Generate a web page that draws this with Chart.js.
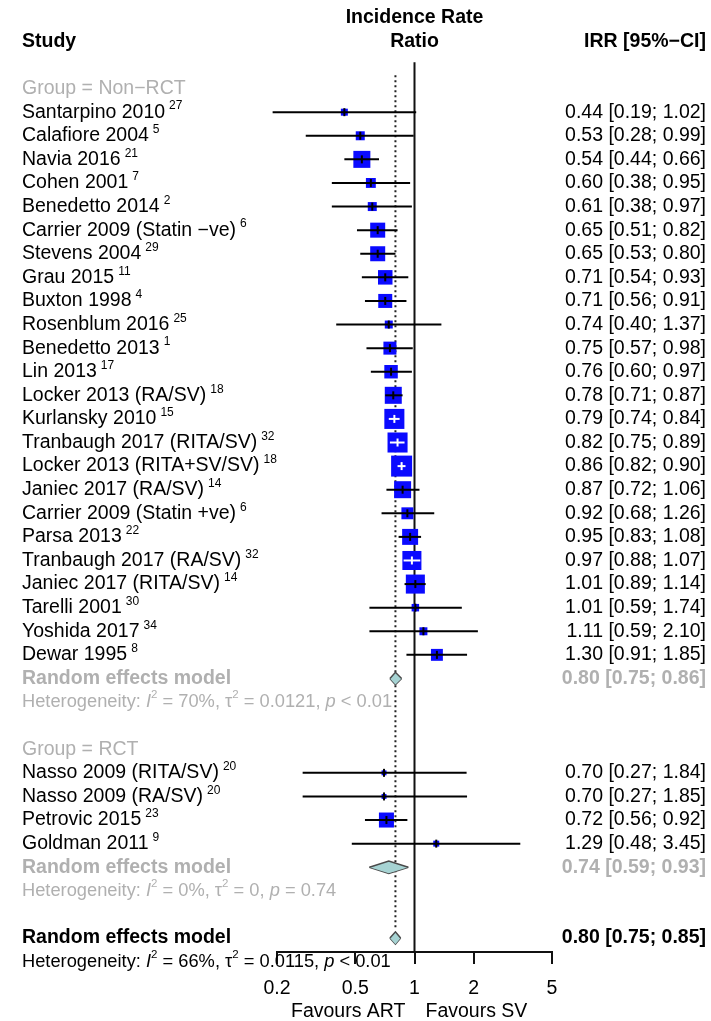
<!DOCTYPE html>
<html>
<head>
<meta charset="utf-8">
<script src="https://cdn.jsdelivr.net/npm/chart.js@4.4.1/dist/chart.umd.min.js"></script>
<style>
  html, body { margin: 0; padding: 0; background: #fff; }
  #wrap { width: 711px; height: 1021px; }
</style>
</head>
<body>
<div id="wrap"><canvas id="forest" width="711" height="1021"></canvas></div>
<script>
// study rows, in plot order
const studies = ['Santarpino 2010', 'Calafiore 2004', 'Navia 2016', 'Cohen 2001', 'Benedetto 2014',
  'Carrier 2009 (Statin \u2212ve)', 'Stevens 2004', 'Grau 2015', 'Buxton 1998', 'Rosenblum 2016',
  'Benedetto 2013', 'Lin 2013', 'Locker 2013 (RA/SV)', 'Kurlansky 2010', 'Tranbaugh 2017 (RITA/SV)',
  'Locker 2013 (RITA+SV/SV)', 'Janiec 2017 (RA/SV)', 'Carrier 2009 (Statin +ve)', 'Parsa 2013',
  'Tranbaugh 2017 (RA/SV)', 'Janiec 2017 (RITA/SV)', 'Tarelli 2001', 'Yoshida 2017', 'Dewar 1995',
  'Nasso 2009 (RITA/SV)', 'Nasso 2009 (RA/SV)', 'Petrovic 2015', 'Goldman 2011'];
const refs = ['27', '5', '21', '7', '2', '6', '29', '11', '4', '25', '1', '17', '18', '15', '32', '18',
  '14', '6', '22', '32', '14', '30', '34', '8', '20', '20', '23', '9'];
const groups = ['Non-RCT', 'Non-RCT', 'Non-RCT', 'Non-RCT', 'Non-RCT', 'Non-RCT', 'Non-RCT', 'Non-RCT',
  'Non-RCT', 'Non-RCT', 'Non-RCT', 'Non-RCT', 'Non-RCT', 'Non-RCT', 'Non-RCT', 'Non-RCT', 'Non-RCT',
  'Non-RCT', 'Non-RCT', 'Non-RCT', 'Non-RCT', 'Non-RCT', 'Non-RCT', 'Non-RCT', 'RCT', 'RCT', 'RCT', 'RCT'];
const irr = [0.44, 0.53, 0.54, 0.60, 0.61, 0.65, 0.65, 0.71, 0.71, 0.74, 0.75, 0.76, 0.78, 0.79, 0.82,
  0.86, 0.87, 0.92, 0.95, 0.97, 1.01, 1.01, 1.11, 1.30, 0.70, 0.70, 0.72, 1.29];
const lower = [0.19, 0.28, 0.44, 0.38, 0.38, 0.51, 0.53, 0.54, 0.56, 0.40, 0.57, 0.60, 0.71, 0.74, 0.75,
  0.82, 0.72, 0.68, 0.83, 0.88, 0.89, 0.59, 0.59, 0.91, 0.27, 0.27, 0.56, 0.48];
const upper = [1.02, 0.99, 0.66, 0.95, 0.97, 0.82, 0.80, 0.93, 0.91, 1.37, 0.98, 0.97, 0.87, 0.84, 0.89,
  0.90, 1.06, 1.26, 1.08, 1.07, 1.14, 1.74, 2.10, 1.85, 1.84, 1.85, 0.92, 3.45];
// weights (%)
const weights = [1.0, 1.65, 5.9, 2.0, 1.65, 4.6, 4.6, 4.3, 4.0, 1.3, 3.45, 3.7, 5.9, 8.2, 8.2,
  9.0, 5.9, 2.9, 5.2, 7.4, 7.4, 1.15, 1.3, 2.9, 0.5, 0.5, 4.6, 0.73];

// pooled estimates: Non-RCT, RCT, overall
const pooledIrr = [0.80, 0.74, 0.80];
const pooledLower = [0.75, 0.59, 0.75];
const pooledUpper = [0.86, 0.93, 0.85];
const hetI2 = ['70%', '0%', '66%'];
const hetTau2 = ['0.0121', '0', '0.0115'];
const hetP = ['< 0.01', '= 0.74', '< 0.01'];

const xTicks = [0.2, 0.5, 1, 2, 5];

const FONT = '"Liberation Sans", Arial, sans-serif';
const GRAY = '#b0b0b0';
const BLUE = '#0a0aff';

// linhas do layout
const groupNames = ['Non-RCT', 'RCT'];
const rowOf = [];
const groupRows = [];
const pooledRows = [];
let r = 0;
groupNames.forEach(g => {
  groupRows.push(r); r++;
  groups.forEach((gg, i) => { if (gg === g) { rowOf[i] = r; r++; } });
  pooledRows.push(r); r += 3;
});
pooledRows.push(r);
const yBottom = 36.593;

const boxSide = i => 7 * Math.sqrt(weights[i]);
function ciInside(chart, i) {
  const xs = chart.scales.x;
  if (!xs) return false;
  return xs.getPixelForValue(upper[i]) - xs.getPixelForValue(lower[i]) < boxSide(i);
}

const datasets = [];

// estimate tick marks
datasets.push({
  data: irr.map((v, i) => ({ x: v, y: rowOf[i] })),
  showLine: false, order: 0, clip: false,
  pointStyle: 'line', pointRotation: 90, pointRadius: 4, pointHoverRadius: 4,
  pointBorderWidth: 2,
  pointBorderColor: c => ciInside(c.chart, c.dataIndex) ? '#fff' : '#000'
});

// confidence intervals
irr.forEach((v, i) => {
  datasets.push({
    data: [{ x: lower[i], y: rowOf[i] }, { x: upper[i], y: rowOf[i] }],
    order: 1, clip: false, pointRadius: 0, borderWidth: 2,
    borderColor: c => ciInside(c.chart, i) ? '#fff' : '#000'
  });
});

// boxes
datasets.push({
  data: irr.map((v, i) => ({ x: v, y: rowOf[i] })),
  showLine: false, order: 3, clip: false,
  pointStyle: 'rect', pointBorderWidth: 0,
  pointRadius: c => boxSide(c.dataIndex) * Math.SQRT1_2,
  pointHoverRadius: c => boxSide(c.dataIndex) * Math.SQRT1_2,
  pointBackgroundColor: BLUE
});

// diamonds
const h = 0.26;
pooledIrr.forEach((v, k) => {
  const row = pooledRows[k];
  datasets.push({
    data: [{ x: pooledLower[k], y: row }, { x: v, y: row - h }, { x: pooledUpper[k], y: row }],
    order: 2, clip: false, pointRadius: 0, borderWidth: 1.5, borderColor: '#4a4a4a',
    fill: '+1', backgroundColor: '#a6d3d3', tension: 0
  });
  datasets.push({
    data: [{ x: pooledLower[k], y: row }, { x: v, y: row + h }, { x: pooledUpper[k], y: row }],
    order: 2, clip: false, pointRadius: 0, borderWidth: 1.5, borderColor: '#4a4a4a', fill: false
  });
});

// reference lines
datasets.push({
  data: [{ x: pooledIrr[2], y: -0.57 }, { x: pooledIrr[2], y: pooledRows[2] - 0.38 }],
  order: 5, pointRadius: 0, borderWidth: 2, borderColor: '#222', borderDash: [2, 3]
});
datasets.push({
  data: [{ x: 1, y: -1.12 }, { x: 1, y: yBottom }],
  order: 5, pointRadius: 0, borderWidth: 2, borderColor: '#111'
});

function drawRuns(ctx, runs, x, y) {
  runs.forEach(([s, font, dy, color]) => {
    ctx.font = font;
    ctx.fillStyle = color;
    ctx.fillText(s, x, y + (dy || 0));
    x += ctx.measureText(s).width;
  });
}

function hetRuns(k, color) {
  const base = '18.3px ' + FONT, ital = 'italic 18.3px ' + FONT, sup = '11.5px ' + FONT;
  return [
    ['Heterogeneity: ', base, 0, color], ['I', ital, 0, color], ['2', sup, -7, color],
    [' = ' + hetI2[k] + ', ', base, 0, color], ['\u03c4', base, 0, color], ['2', sup, -7, color],
    [' = ' + hetTau2[k] + ', ', base, 0, color], ['p', ital, 0, color], [' ' + hetP[k], base, 0, color]
  ];
}

const textPlugin = {
  id: 'forestText',
  afterDraw(chart) {
    const ctx = chart.ctx, ys = chart.scales.y, xs = chart.scales.x;
    const left = 22, right = 706;
    const main = '19.5px ' + FONT, bold = 'bold 19.5px ' + FONT;
    const mid = xs.getPixelForValue(1);
    ctx.save();
    ctx.textBaseline = 'middle';

    // headers
    ctx.fillStyle = '#000';
    ctx.font = bold;
    ctx.textAlign = 'left';
    ctx.fillText('Study', left, ys.getPixelForValue(-2));
    ctx.textAlign = 'center';
    ctx.fillText('Incidence Rate', mid, ys.getPixelForValue(-3));
    ctx.fillText('Ratio', mid, ys.getPixelForValue(-2));
    ctx.textAlign = 'right';
    ctx.fillText('IRR [95%\u2212CI]', right, ys.getPixelForValue(-2));

    // group headings
    ctx.textAlign = 'left';
    ctx.font = main;
    ctx.fillStyle = GRAY;
    groupNames.forEach((g, k) => ctx.fillText('Group = ' + g.replace('-', '\u2212'), left, ys.getPixelForValue(groupRows[k])));

    // studies
    studies.forEach((s, i) => {
      const y = ys.getPixelForValue(rowOf[i]);
      ctx.textAlign = 'left';
      ctx.font = main;
      ctx.fillStyle = '#000';
      ctx.fillText(s, left, y);
      const w = ctx.measureText(s).width;
      ctx.font = '12px ' + FONT;
      ctx.fillText(refs[i], left + w + 4, y - 6);
      ctx.font = main;
      ctx.textAlign = 'right';
      ctx.fillText(irr[i].toFixed(2) + ' [' + lower[i].toFixed(2) + '; ' + upper[i].toFixed(2) + ']', right, y);
    });

    // pooled rows
    pooledRows.forEach((row, k) => {
      const col = k < 2 ? GRAY : '#000';
      const y = ys.getPixelForValue(row);
      ctx.font = bold;
      ctx.fillStyle = col;
      ctx.textAlign = 'left';
      ctx.fillText('Random effects model', left, y);
      ctx.textAlign = 'right';
      ctx.fillText(pooledIrr[k].toFixed(2) + ' [' + pooledLower[k].toFixed(2) + '; ' + pooledUpper[k].toFixed(2) + ']', right, y);
      ctx.textAlign = 'left';
      drawRuns(ctx, hetRuns(k, col), left, ys.getPixelForValue(row + 1));
    });

    // favours labels
    ctx.font = main;
    ctx.fillStyle = '#000';
    const fy = chart.chartArea.bottom + 60;
    ctx.textAlign = 'right';
    ctx.fillText('Favours ART', mid - 9, fy);
    ctx.textAlign = 'left';
    ctx.fillText('Favours SV', mid + 11, fy);
    ctx.restore();
  }
};

Chart.defaults.font.family = FONT;

new Chart(document.getElementById('forest'), {
  type: 'line',
  data: { datasets },
  options: {
    responsive: false,
    animation: false,
    events: [],
    layout: { padding: { left: 277, right: 159, top: 5.8, bottom: 14 } },
    plugins: { legend: { display: false }, tooltip: { enabled: false } },
    scales: {
      x: {
        type: 'logarithmic',
        min: 0.2,
        max: 5,
        afterBuildTicks: s => { s.ticks = xTicks.map(v => ({ value: v })); },
        afterFit: s => { s.height = 55; },
        ticks: {
          autoSkip: false, maxRotation: 0, padding: 13,
          color: '#000', font: { size: 19.5 },
          callback: v => String(v)
        },
        grid: { drawOnChartArea: false, drawTicks: true, tickLength: 12, color: '#111', lineWidth: 2 },
        border: { display: true, color: '#111', width: 2 }
      },
      y: {
        type: 'linear',
        display: false,
        reverse: true,
        min: -3.5,
        max: yBottom
      }
    }
  },
  plugins: [textPlugin]
});
</script>
</body>
</html>
